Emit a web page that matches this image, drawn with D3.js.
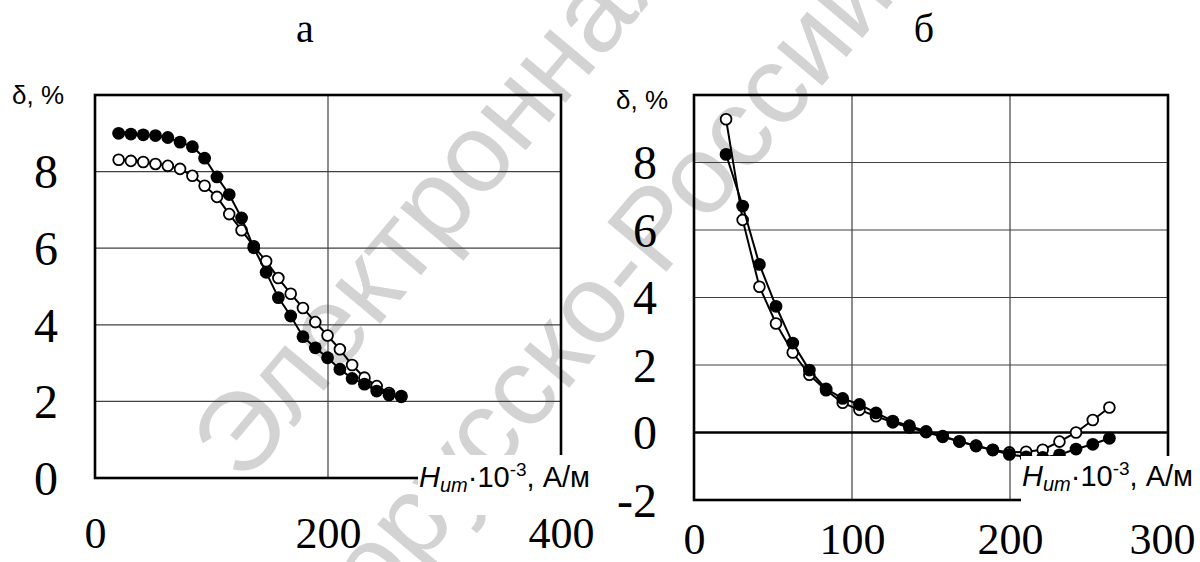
<!DOCTYPE html>
<html>
<head>
<meta charset="utf-8">
<script src="https://cdn.jsdelivr.net/npm/d3@7"></script>
<style>
  html, body { margin: 0; padding: 0; background: #fff; }
  svg { display: block; }
</style>
</head>
<body>
<svg id="chart"></svg>
<script>
// H values, kA/m (same grid for both panels)
const hValues = [20.3, 30.8, 41.4, 51.9, 62.5, 73.0, 83.6, 94.1, 104.7, 115.2, 125.8, 136.3,
  146.9, 157.4, 168.0, 178.5, 189.1, 199.6, 210.2, 220.7, 231.3, 241.8, 252.4, 262.9];

// panel "а"
const aFilled = [9.00, 8.98, 8.96, 8.94, 8.89, 8.77, 8.65, 8.35, 7.86, 7.40, 6.79, 6.01,
  5.37, 4.71, 4.23, 3.69, 3.40, 3.14, 2.84, 2.60, 2.45, 2.27, 2.17, 2.12];
const aOpen = [8.31, 8.28, 8.25, 8.20, 8.15, 8.07, 7.89, 7.63, 7.34, 6.89, 6.47, 6.05,
  5.66, 5.22, 4.81, 4.44, 4.07, 3.72, 3.36, 2.95, 2.62, 2.40, 2.22, 2.14];

// panel "б"
const bFilled = [8.24, 6.71, 4.98, 3.74, 2.65, 1.85, 1.29, 1.01, 0.83, 0.58, 0.34, 0.20,
  0.03, -0.11, -0.26, -0.40, -0.52, -0.65, -0.72, -0.74, -0.66, -0.49, -0.35, -0.17];
const bOpen = [9.28, 6.30, 4.32, 3.23, 2.37, 1.71, 1.25, 0.88, 0.67, 0.48, 0.30, 0.15,
  0.01, -0.13, -0.27, -0.39, -0.51, -0.59, -0.57, -0.51, -0.27, 0.00, 0.37, 0.74];

const aXTicks = [0, 200, 400];
const aYTicks = [0, 2, 4, 6, 8];
const bXTicks = [0, 100, 200, 300];
const bYTicks = [-2, 0, 2, 4, 6, 8];

const width = 1200, height = 562;
const serif = "'Liberation Serif', 'Times New Roman', serif";
const sans = "'Liberation Sans', Arial, sans-serif";

const svg = d3.select("#chart")
  .attr("width", width)
  .attr("height", height)
  .attr("viewBox", [0, 0, width, height]);

// faint library watermark, behind everything
const wm = svg.append("g")
  .attr("fill", "#d3d3d3")
  .attr("font-family", sans)
  .attr("font-size", 112);
wm.append("text")
  .attr("transform", "translate(244,486) rotate(-50)")
  .text("Электронная библиотека");
wm.append("text")
  .attr("transform", "translate(250,768) rotate(-50)")
  .text("Белорусско-Российского университета");

function panel(opt) {
  const x = d3.scaleLinear().domain(opt.xDomain).range([opt.left, opt.right]);
  const y = d3.scaleLinear().domain(opt.yDomain).range([opt.bottom, opt.top]);
  const g = svg.append("g");

  // grid
  g.append("g")
    .selectAll("line")
    .data(opt.xGrid)
    .join("line")
    .attr("x1", d => x(d)).attr("x2", d => x(d))
    .attr("y1", opt.top).attr("y2", opt.bottom)
    .attr("stroke", "#404040").attr("stroke-width", 1.2);
  g.append("g")
    .selectAll("line")
    .data(opt.yGrid)
    .join("line")
    .attr("x1", opt.left).attr("x2", opt.right)
    .attr("y1", d => y(d)).attr("y2", d => y(d))
    .attr("stroke", d => d === 0 ? "#000" : "#404040")
    .attr("stroke-width", d => d === 0 ? 2.5 : 1.2);

  // frame
  g.append("rect")
    .attr("x", opt.left).attr("y", opt.top)
    .attr("width", opt.right - opt.left).attr("height", opt.bottom - opt.top)
    .attr("fill", "none").attr("stroke", "#000").attr("stroke-width", 2.6);

  // series: open first, filled on top
  const line = d3.line().x(d => x(d[0])).y(d => y(d[1]));
  const open = hValues.map((h, i) => [h, opt.open[i]]);
  const filled = hValues.map((h, i) => [h, opt.filled[i]]);

  g.append("path").datum(open)
    .attr("d", line).attr("fill", "none")
    .attr("stroke", "#000").attr("stroke-width", 2);
  g.append("g").selectAll("circle").data(open).join("circle")
    .attr("cx", d => x(d[0])).attr("cy", d => y(d[1])).attr("r", 5.4)
    .attr("fill", "#fff").attr("stroke", "#000").attr("stroke-width", 1.8);

  g.append("path").datum(filled)
    .attr("d", line).attr("fill", "none")
    .attr("stroke", "#000").attr("stroke-width", 2);
  g.append("g").selectAll("circle").data(filled).join("circle")
    .attr("cx", d => x(d[0])).attr("cy", d => y(d[1])).attr("r", 6.4)
    .attr("fill", "#000");

  // tick labels (plain hyphen for negatives, as in the source)
  const yAxis = d3.axisLeft(y).tickValues(opt.yTicks).tickSize(0).tickPadding(0)
    .tickFormat(d => String(d));
  g.append("g")
    .attr("transform", `translate(${opt.left - 37},0)`)
    .call(yAxis)
    .call(s => s.select(".domain").remove())
    .selectAll("text")
    .attr("font-family", serif).attr("font-size", 48).attr("fill", "#000")
    .attr("dy", "0.34em");

  const xAxis = d3.axisBottom(x).tickValues(opt.xTicks).tickSize(0).tickPadding(0)
    .tickFormat(d => String(d));
  g.append("g")
    .attr("transform", `translate(0,${opt.xLabelY})`)
    .call(xAxis)
    .call(s => s.select(".domain").remove())
    .selectAll("text")
    .attr("font-family", serif).attr("font-size", 44).attr("fill", "#000")
    .attr("dy", "0.34em")
    .attr("dx", (d, i, n) => i === n.length - 1 ? opt.lastDx : 0);

  // axis title with white backing box
  g.append("rect")
    .attr("x", opt.hX - 1).attr("y", opt.boxTop)
    .attr("width", width - opt.hX + 1).attr("height", 60)
    .attr("fill", "#fff");
  const t = g.append("text")
    .attr("x", opt.hX).attr("y", opt.hY)
    .attr("font-family", sans).attr("font-size", 29).attr("fill", "#000");
  t.append("tspan").attr("font-style", "italic").text("H");
  t.append("tspan").attr("font-style", "italic").attr("font-size", 20).attr("dy", 5).text("ит");
  t.append("tspan").attr("dy", -5).text("·10");
  t.append("tspan").attr("font-size", 19).attr("dy", -11).text("-3");
  t.append("tspan").attr("dy", 11).text(", А/м");

  svg.append("text")
    .attr("x", opt.dX).attr("y", opt.dY)
    .attr("font-family", sans).attr("font-size", 26).attr("fill", "#000")
    .text("δ, %");

  svg.append("text")
    .attr("x", opt.titleX).attr("y", 42)
    .attr("text-anchor", "middle")
    .attr("font-family", serif).attr("font-size", 40).attr("fill", "#000")
    .text(opt.title);
}

panel({
  title: "а", titleX: 305,
  left: 95, right: 561, top: 95, bottom: 478,
  xDomain: [0, 400], yDomain: [0, 10],
  xGrid: [200], yGrid: [2, 4, 6, 8],
  xTicks: aXTicks, yTicks: aYTicks, xLabelY: 533, lastDx: 0,
  filled: aFilled, open: aOpen,
  hX: 419, hY: 487, boxTop: 455,
  dX: 12, dY: 104
});

panel({
  title: "б", titleX: 924,
  left: 694, right: 1168, top: 95, bottom: 500,
  xDomain: [0, 300], yDomain: [-2, 10],
  xGrid: [100, 200], yGrid: [0, 2, 4, 6, 8],
  xTicks: bXTicks, yTicks: bYTicks, xLabelY: 539, lastDx: -6,
  filled: bFilled, open: bOpen,
  hX: 1022, hY: 486, boxTop: 456,
  dX: 616, dY: 109
});
</script>
</body>
</html>
